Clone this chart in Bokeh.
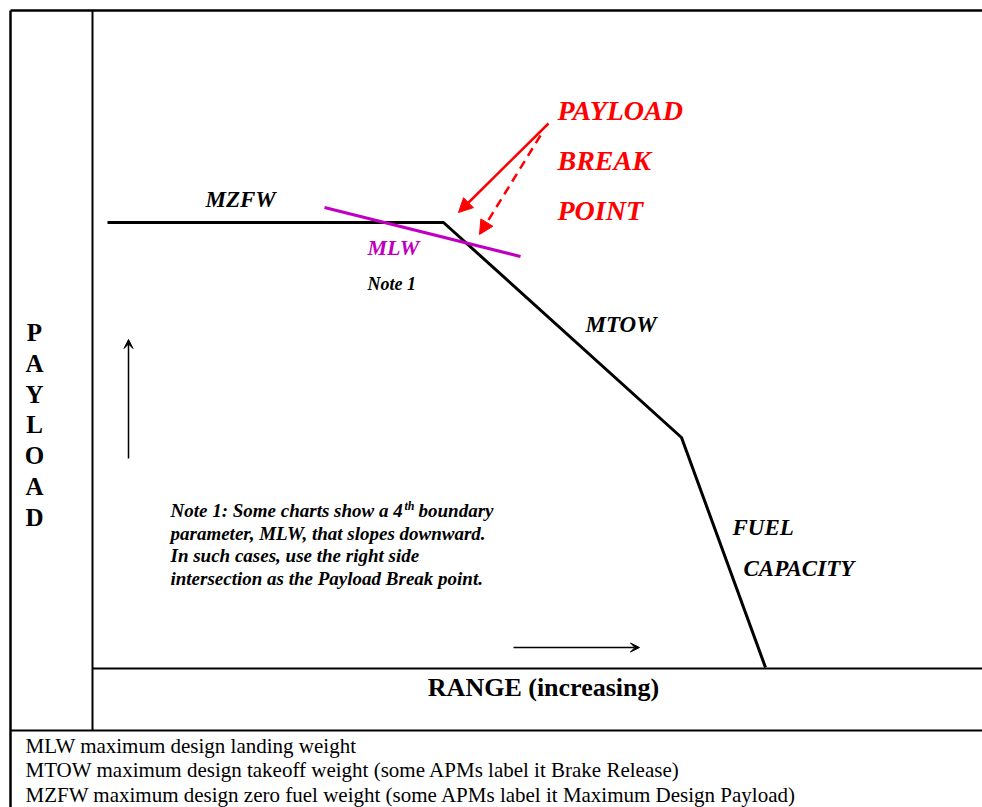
from bokeh.plotting import figure
from bokeh.models import Range1d, Arrow, VeeHead, NormalHead, Label
from bokeh.embed import file_html
from bokeh.resources import INLINE

# ---- data (schematic units: range to the right, payload upward, origin at plot corner)
env_range = [15, 351, 589, 673]
env_payload = [446, 446, 231, 1]
mlw_range = [232, 428]
mlw_payload = [461, 412]
env_labels = ["MZFW", "MTOW", "FUEL", "CAPACITY"]
break_words = ["PAYLOAD", "BREAK", "POINT"]
axis_letters = list("PAYLOAD")
note_first = ["Note 1: Some charts show a 4", "th", "boundary"]
note_lines = [
    "parameter, MLW, that slopes downward.",
    "In such cases, use the right side",
    "intersection as the Payload Break point.",
]
footer_lines = [
    "MLW maximum design landing weight",
    "MTOW maximum design takeoff weight (some APMs label it Brake Release)",
    "MZFW maximum design zero fuel weight (some APMs label it Maximum Design Payload)",
]

W, H = 982, 807
OFF = 0
X0, Y0 = 92, 668  # screen position of the origin (used to set ranges)
p = figure(width=W, height=H, output_backend="svg", toolbar_location=None,
           x_range=Range1d(OFF - X0, OFF + W - X0), y_range=Range1d(Y0 - (OFF + H), Y0 - OFF),
           min_border=0, tools="")
p.axis.visible = False
p.grid.visible = False
p.outline_line_color = None
p.background_fill_color = "white"

xr = OFF + W - X0 + 5
yb = Y0 - (OFF + H) - 5
SERIF = "Liberation Serif"

# frame lines
p.line([-82, xr], [658, 658], line_color="black", line_width=2.5)
p.line([-82, -82], [658, yb], line_color="black", line_width=2.5)
p.line([0, 0], [658, -62], line_color="black", line_width=2)
p.line([0, xr], [0, 0], line_color="black", line_width=2)
p.line([-82, xr], [-62, -62], line_color="black", line_width=2)

# envelope
p.line(env_range, env_payload, line_color="black", line_width=3)
p.line(mlw_range, mlw_payload, line_color="#c000c0", line_width=3)

# red arrows
p.add_layout(Arrow(x_start=456, y_start=545, x_end=366, y_end=456,
                   line_color="#ff0000", line_width=2.5,
                   end=NormalHead(size=14, fill_color="#ff0000", line_color="#ff0000")))
p.add_layout(Arrow(x_start=448, y_start=533, x_end=387, y_end=434,
                   line_color="#ff0000", line_width=2.5, line_dash="9 6",
                   end=NormalHead(size=14, fill_color="#ff0000", line_color="#ff0000")))

# direction arrows
p.add_layout(Arrow(x_start=36, y_start=210, x_end=36, y_end=329,
                   line_color="black", line_width=1.5,
                   end=VeeHead(size=9, fill_color="black", line_color="black", line_width=1)))
p.add_layout(Arrow(x_start=421, y_start=21, x_end=547, y_end=21,
                   line_color="black", line_width=1.5,
                   end=VeeHead(size=9, fill_color="black", line_color="black", line_width=1)))

def lab(x, y, t, size, color="black", style="bold italic", align="left", base="middle"):
    p.add_layout(Label(x=x, y=y, text=t, text_font=SERIF, text_font_size=f"{size}px",
                       text_font_style=style, text_color=color, text_align=align,
                       text_baseline=base))

# envelope labels
lab(113, 469, env_labels[0], 23)
lab(493, 344, env_labels[1], 23)
lab(640, 141, env_labels[2], 23)
lab(651, 100, env_labels[3], 23)
lab(275, 421, "MLW", 22, color="#c000c0")
lab(275, 385, "Note 1", 18)

# payload break point
for i, w in enumerate(break_words):
    lab(465, 558 - i * 50, w, 28, color="#ff0000")

# vertical PAYLOAD label
for i, ch in enumerate(axis_letters):
    lab(-58, 336 - i * 30.8, ch, 25, style="bold", align="center")

# note block (first line carries a superscript)
lab(78, 158, note_first[0], 19)
lab(312, 163, note_first[1], 12)
lab(326, 158, note_first[2], 19)
for i, t in enumerate(note_lines):
    lab(78, 158 - (i + 1) * 22.7, t, 19)

# range label
lab(451, -19, "RANGE (increasing)", 26, style="bold", align="center")

# footer
for i, t in enumerate(footer_lines):
    lab(-67, -77 - i * 24.5, t, 21, style="normal")

open("out.html", "w").write(file_html(p, INLINE))
